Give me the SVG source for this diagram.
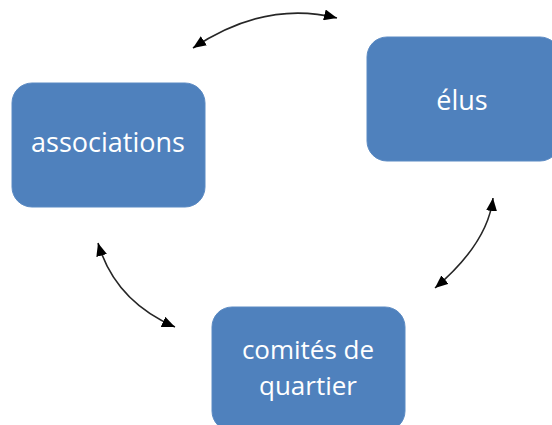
<svg xmlns="http://www.w3.org/2000/svg" width="552" height="425" viewBox="0 0 552 425">
<defs>
<style>
.box{fill:#4F81BD;stroke:#5B8AC3;stroke-width:1}
.lbl{fill:#FFFFFF;font-family:"Open Sans","Liberation Sans",sans-serif;font-size:27px;text-anchor:middle}
.lbl2{fill:#FFFFFF;font-family:"Open Sans","Liberation Sans",sans-serif;font-size:26px;text-anchor:middle}
.conn{fill:none;stroke:#262626;stroke-width:1.6}
</style>
<marker id="ah" viewBox="0 0 13 11" refX="13" refY="5.5" markerWidth="13" markerHeight="11" markerUnits="userSpaceOnUse" orient="auto-start-reverse">
<path d="M0,0 L13,5.5 L0,11 Z" fill="#000000"/>
</marker>
</defs>
<rect width="552" height="425" fill="#FFFFFF"/>
<g id="connectors">
<path class="conn" d="M193,48 Q265,0 337,18" marker-start="url(#ah)" marker-end="url(#ah)"/>
<path class="conn" d="M493,198 Q488,243 435,288" marker-start="url(#ah)" marker-end="url(#ah)"/>
<path class="conn" d="M98,243 Q115,301 175,327" marker-start="url(#ah)" marker-end="url(#ah)"/>
</g>
<g id="associations">
<rect class="box" x="12" y="83" width="193" height="124" rx="20"/>
<text class="lbl" x="108" y="152">associations</text>
</g>
<g id="elus">
<rect class="box" x="367" y="37" width="193" height="124" rx="20"/>
<text class="lbl" x="462" y="110">élus</text>
</g>
<g id="comites">
<rect class="box" x="212" y="307" width="193" height="124" rx="20"/>
<text class="lbl2" x="308" y="359">comités de</text>
<text class="lbl2" x="308" y="395">quartier</text>
</g>
</svg>
